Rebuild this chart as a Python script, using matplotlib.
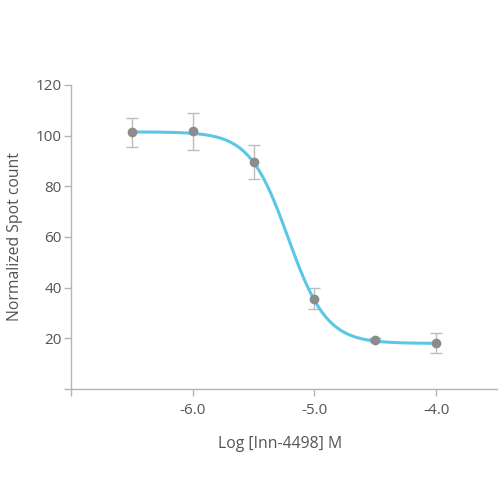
import matplotlib.pyplot as plt
import numpy as np

plt.rcParams['font.family'] = ['Open Sans', 'DejaVu Sans']

# measured points: log concentration, normalized spot count, error
log_conc = [-6.5, -6.0, -5.5, -5.0, -4.5, -4.0]
spot_count = [101.3, 101.7, 89.5, 35.7, 19.2, 18.2]
spot_err = [5.8, 7.3, 6.7, 4.0, 0.8, 3.9]

# 4PL fit parameters
top, bottom, log_ic50, hill = 101.5, 18.0, -5.2165, 2.73

x_ticks = [-7.0, -6.0, -5.0, -4.0]
x_labels = ['', '-6.0', '-5.0', '-4.0']
y_ticks = [0, 20, 40, 60, 80, 100, 120]
y_labels = ['', '20', '40', '60', '80', '100', '120']

fig = plt.figure(figsize=(5, 5), dpi=100)
ax = fig.add_axes([0.142, 0.222, 0.852, 0.608])

xs = np.linspace(log_conc[0], log_conc[-1], 300)
fit = bottom + (top - bottom) / (1 + 10 ** ((xs - log_ic50) * hill))
ax.plot(xs, fit, color='#5bc6e6', lw=2.2, zorder=2)

ax.errorbar(log_conc, spot_count, yerr=spot_err, fmt='none', ecolor='#bdbdbd',
            elinewidth=1, capsize=4, capthick=1, zorder=1)
ax.plot(log_conc, spot_count, 'o', color='#8c8c8c', ms=6, zorder=3)

ax.set_xlim(-7.0, -3.5)
ax.set_ylim(0, 120)
ax.set_xticks(x_ticks)
ax.set_xticklabels(x_labels)
ax.set_yticks(y_ticks)
ax.set_yticklabels(y_labels)

for s in ['top', 'right']:
    ax.spines[s].set_visible(False)
for s in ['left', 'bottom']:
    ax.spines[s].set_color('#b5b5b5')
    ax.spines[s].set_linewidth(1)
ax.tick_params(colors='#b5b5b5', labelcolor='#555555', labelsize=11, length=5, width=1)
ax.tick_params(axis='x', pad=5)
ax.tick_params(axis='y', pad=1.5)

ax.set_xlabel('Log [Inn-4498] M', fontsize=11.3, color='#555555')
ax.set_ylabel('Normalized Spot count', fontsize=11.3, color='#555555')
ax.xaxis.set_label_coords(0.49, -0.155)
ax.yaxis.set_label_coords(-0.112, 0.5)

fig.savefig('out.png')
